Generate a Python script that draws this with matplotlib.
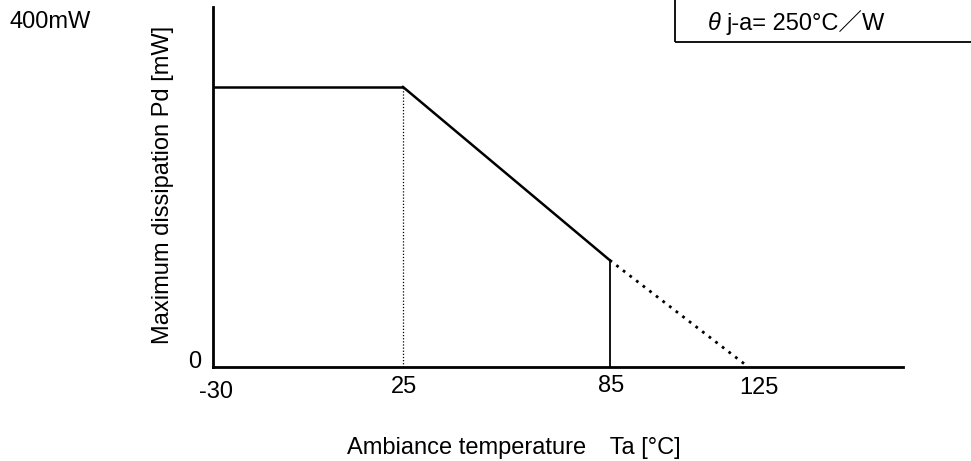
#!/usr/bin/env python3
'''
Power dissipation derating curve.
'''
### MODULES ---
import matplotlib
matplotlib.use('Agg')
import matplotlib.pyplot as plt
from matplotlib.patches import Rectangle


### DATA ---
# Derating curve (Ta [degC], Pd [mW])
ta_flat = [-30, 25]
pd_flat = [400, 400]
ta_slope = [25, 85]
pd_slope = [400, 152]
ta_ext = [85, 125]
pd_ext = [152, 0]

xticks = [-30, 25, 85, 125]
xticklabels = ['-30', '25', '85', '125']
xlim = (-30, 170)
ylim = (0, 514)


### PLOT ---
plt.rcParams['font.family'] = ['Liberation Sans', 'Noto Sans CJK JP', 'DejaVu Sans']

W, H = 971, 461
fig = plt.figure(figsize=(W/100, H/100), dpi=100)
ax = fig.add_axes([213/W, (H-366.5)/H, (903-213)/W, (366.5-7)/H])

# Curve
ax.plot(ta_flat, pd_flat, color='k', lw=1.8, solid_capstyle='butt')
ax.plot(ta_slope, pd_slope, color='k', lw=1.8, solid_capstyle='round')
ax.plot(ta_ext, pd_ext, color='k', lw=2.0, linestyle=(0, (1, 2.0)))

# Guide lines
ax.plot([ta_slope[0]]*2, [0, pd_slope[0]], color='k', lw=0.9, linestyle=(0, (1, 1.5)))
ax.plot([ta_ext[0]]*2, [0, pd_ext[0]], color='k', lw=1.3)

# Axes
ax.set_xlim(*xlim)
ax.set_ylim(*ylim)
for side in ['top', 'right']:
    ax.spines[side].set_visible(False)
for side in ['left', 'bottom']:
    ax.spines[side].set_linewidth(2.0)
ax.set_xticks([])
ax.set_yticks([])

# Tick labels
offsets = [(3, -25), (1, -20), (1, -19), (11, -21)]
for x, lab, off in zip(xticks, xticklabels, offsets):
    ax.annotate(lab, (x, 0), xytext=off, textcoords='offset pixels',
                ha='center', va='center', fontsize=17)
ax.annotate('0', (xlim[0], 0), xytext=(-18, 5), textcoords='offset pixels',
            ha='center', va='center', fontsize=17)

# Labels
fig.text(163/W, 1-185/H, 'Maximum dissipation Pd [mW]', rotation=90,
         ha='center', va='center', fontsize=17)
fig.text(514/W, 1-448/H, 'Ambiance temperature\u3000Ta [°C]',
         ha='center', va='center', fontsize=17)
fig.text(50/W, 1-22/H, '400mW', ha='center', va='center', fontsize=17)

# Condition box
fig.patches.append(Rectangle((675/W, 1-42/H), 400/W, 60/H, transform=fig.transFigure,
                             fill=False, edgecolor='k', lw=1.3, clip_on=False))
fig.text(708/W, 1-23/H, '\u03b8', ha='left', va='center', fontsize=17, style='italic')
fig.text(727/W, 1-23/H, 'j-a= 250°C／W', ha='left', va='center', fontsize=17)

fig.savefig('out.png', dpi=100)
